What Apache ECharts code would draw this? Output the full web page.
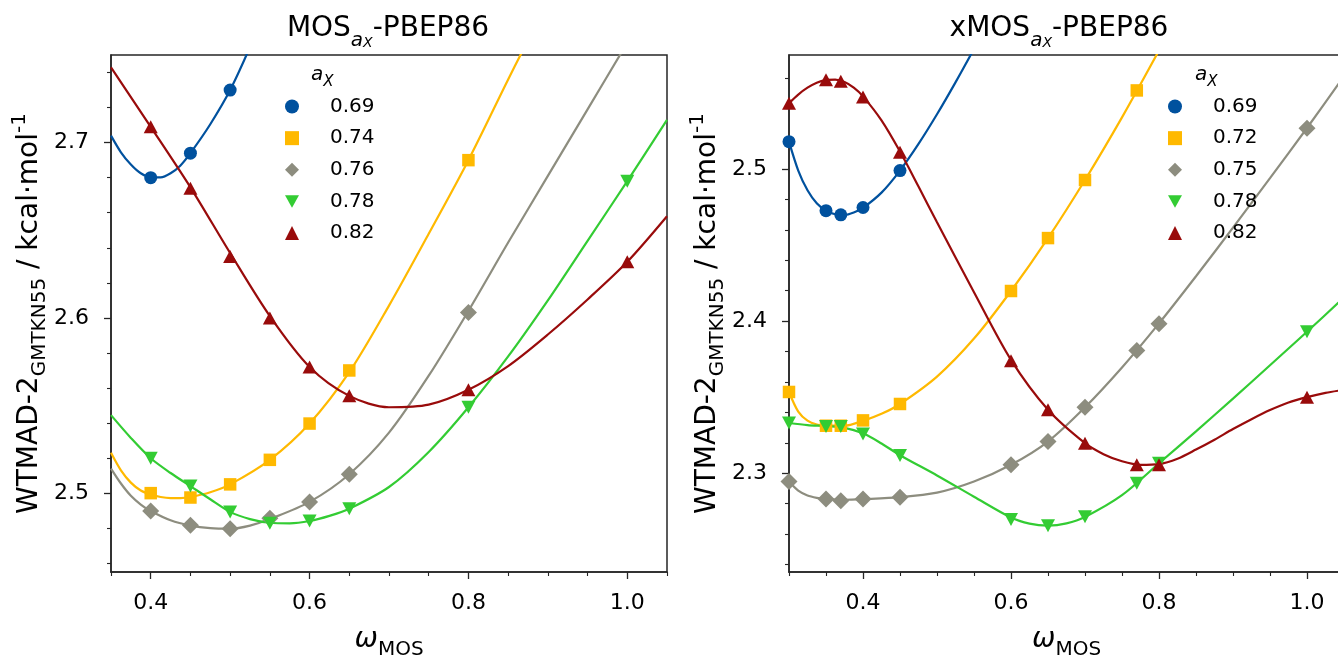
<!DOCTYPE html>
<html>
<head>
<meta charset="utf-8">
<script src="https://cdn.jsdelivr.net/npm/echarts@6/dist/echarts.min.js"></script>
<style>html,body{margin:0;padding:0;background:#fff}#c{width:1338px;height:658px}</style>
</head>
<body>
<div id="c"></div>
<script>
// ---------------- DATA ----------------
// Left panel: MOS_aX-PBEP86
const mosNames = ['0.69', '0.74', '0.76', '0.78', '0.82'];
const mosX_069 = [0.40, 0.45, 0.50];
const mosY_069 = [2.680, 2.694, 2.730];
const mosX_074 = [0.40, 0.45, 0.50, 0.55, 0.60, 0.65, 0.80];
const mosY_074 = [2.500, 2.4975, 2.505, 2.519, 2.5397, 2.570, 2.690];
const mosX_076 = [0.40, 0.45, 0.50, 0.55, 0.60, 0.65, 0.80];
const mosY_076 = [2.4898, 2.4817, 2.4797, 2.4857, 2.4949, 2.5108, 2.603];
const mosX_078 = [0.40, 0.45, 0.50, 0.55, 0.60, 0.65, 0.80, 1.00];
const mosY_078 = [2.5199, 2.5041, 2.4893, 2.4828, 2.4841, 2.4911, 2.549, 2.678];
const mosX_082 = [0.40, 0.45, 0.50, 0.55, 0.60, 0.65, 0.80, 1.00];
const mosY_082 = [2.709, 2.674, 2.635, 2.600, 2.572, 2.5555, 2.559, 2.632];
// fitted curves
const mosFit_069 = [[0.35,2.704],[0.3625,2.6945],[0.375,2.6875],[0.3875,2.6825],[0.40,2.6803],[0.4125,2.6802],[0.425,2.6825],[0.4375,2.687],[0.45,2.694],[0.475,2.7105],[0.50,2.730],[0.525,2.7545]];
const mosFit_074 = [[0.35,2.523],[0.3625,2.513],[0.375,2.506],[0.3875,2.5015],[0.40,2.4992],[0.4125,2.4978],[0.425,2.4972],[0.4375,2.4972],[0.45,2.4978],[0.475,2.5005],[0.50,2.505],[0.55,2.519],[0.60,2.5397],[0.65,2.569],[0.70,2.607],[0.75,2.648],[0.80,2.690],[0.85,2.736],[0.87,2.754]];
const mosFit_076 = [[0.35,2.514],[0.3625,2.5055],[0.375,2.4985],[0.3875,2.4935],[0.40,2.4898],[0.425,2.4845],[0.45,2.4815],[0.475,2.4800],[0.50,2.4797],[0.525,2.4815],[0.55,2.4852],[0.60,2.4950],[0.65,2.5108],[0.70,2.5345],[0.75,2.567],[0.80,2.604],[0.85,2.643],[0.90,2.681],[0.95,2.719],[1.00,2.757]];
const mosFit_078 = [[0.35,2.5445],[0.375,2.5315],[0.40,2.5199],[0.425,2.5115],[0.45,2.504],[0.475,2.4965],[0.50,2.4893],[0.525,2.4852],[0.55,2.4831],[0.575,2.4828],[0.60,2.4841],[0.625,2.487],[0.65,2.4911],[0.70,2.5035],[0.75,2.5235],[0.80,2.549],[0.85,2.578],[0.90,2.610],[0.95,2.644],[1.00,2.678],[1.05,2.713]];
const mosFit_082 = [[0.35,2.743],[0.40,2.709],[0.45,2.6745],[0.50,2.637],[0.55,2.601],[0.60,2.572],[0.65,2.5555],[0.70,2.549],[0.75,2.5505],[0.80,2.559],[0.85,2.5725],[0.90,2.5905],[0.95,2.6105],[1.00,2.632],[1.05,2.658]];

// Right panel: xMOS_aX-PBEP86
const xmosNames = ['0.69', '0.72', '0.75', '0.78', '0.82'];
const xmosX_069 = [0.30, 0.35, 0.37, 0.40, 0.45];
const xmosY_069 = [2.518, 2.4726, 2.4699, 2.4747, 2.499];
const xmosX_072 = [0.30, 0.35, 0.37, 0.40, 0.45, 0.60, 0.65, 0.70, 0.77];
const xmosY_072 = [2.3534, 2.3312, 2.3312, 2.3347, 2.3455, 2.4198, 2.4546, 2.4928, 2.5517];
const xmosX_075 = [0.30, 0.35, 0.37, 0.40, 0.45, 0.60, 0.65, 0.70, 0.77, 0.80, 1.00];
const xmosY_075 = [2.2945, 2.283, 2.2819, 2.283, 2.2841, 2.3055, 2.3208, 2.3433, 2.3807, 2.3982, 2.5269];
const xmosX_078 = [0.30, 0.35, 0.37, 0.40, 0.45, 0.60, 0.65, 0.70, 0.77, 0.80, 1.00];
const xmosY_078 = [2.333, 2.3307, 2.3307, 2.3257, 2.3116, 2.2695, 2.2654, 2.2714, 2.2933, 2.3065, 2.393];
const xmosX_082 = [0.30, 0.35, 0.37, 0.40, 0.45, 0.60, 0.65, 0.70, 0.77, 0.80, 1.00];
const xmosY_082 = [2.5433, 2.5588, 2.5577, 2.5473, 2.511, 2.374, 2.3417, 2.3197, 2.3055, 2.3055, 2.350];
const xmosFit_069 = [[0.30,2.518],[0.3125,2.499],[0.325,2.486],[0.3375,2.4775],[0.35,2.4726],[0.3625,2.4703],[0.375,2.4698],[0.3875,2.4714],[0.40,2.4745],[0.425,2.4845],[0.45,2.499],[0.475,2.5165],[0.50,2.536],[0.525,2.557],[0.55,2.579]];
const xmosFit_072 = [[0.30,2.3534],[0.3125,2.3405],[0.325,2.3345],[0.3375,2.332],[0.35,2.3312],[0.375,2.3312],[0.40,2.3344],[0.425,2.339],[0.45,2.3455],[0.50,2.3635],[0.55,2.3885],[0.60,2.4198],[0.65,2.4546],[0.70,2.4928],[0.75,2.534],[0.80,2.578]];
const xmosFit_075 = [[0.30,2.2945],[0.3125,2.2885],[0.325,2.2853],[0.3375,2.2838],[0.35,2.283],[0.375,2.2825],[0.40,2.2829],[0.45,2.2842],[0.50,2.2872],[0.55,2.2945],[0.60,2.3055],[0.65,2.3208],[0.70,2.3433],[0.75,2.3695],[0.80,2.3985],[0.85,2.4295],[0.90,2.4615],[0.95,2.494],[1.00,2.527],[1.05,2.561]];
const xmosFit_078 = [[0.30,2.333],[0.325,2.3316],[0.35,2.3309],[0.375,2.3298],[0.40,2.3262],[0.425,2.3195],[0.45,2.3118],[0.50,2.2985],[0.55,2.2845],[0.60,2.2708],[0.625,2.2668],[0.65,2.2655],[0.675,2.267],[0.70,2.2712],[0.75,2.2855],[0.80,2.3065],[0.85,2.3275],[0.90,2.349],[0.95,2.371],[1.00,2.393],[1.05,2.4155]];
const xmosFit_082 = [[0.30,2.5433],[0.3125,2.549],[0.325,2.5535],[0.3375,2.5568],[0.35,2.5585],[0.3625,2.5588],[0.375,2.5572],[0.3875,2.5535],[0.40,2.5478],[0.425,2.532],[0.45,2.5115],[0.475,2.4885],[0.50,2.465],[0.55,2.419],[0.60,2.3745],[0.65,2.3417],[0.70,2.3197],[0.725,2.3125],[0.75,2.3078],[0.775,2.3055],[0.80,2.306],[0.825,2.3095],[0.85,2.3155],[0.875,2.322],[0.90,2.329],[0.925,2.3355],[0.95,2.3415],[0.975,2.3465],[1.00,2.350],[1.025,2.3528],[1.05,2.3548]];

// tick values
const xMajorL = [0.4, 0.6, 0.8, 1.0];
const xMinorL = [0.35, 0.45, 0.5, 0.55, 0.65, 0.7, 0.75, 0.85, 0.9, 0.95, 1.05];
const yMajorL = [2.5, 2.6, 2.7];
const yMinorL = [2.46, 2.48, 2.52, 2.54, 2.56, 2.58, 2.62, 2.64, 2.66, 2.68, 2.72, 2.74];
const xMajorR = [0.4, 0.6, 0.8, 1.0];
const xMinorR = [0.3, 0.35, 0.45, 0.5, 0.55, 0.65, 0.7, 0.75, 0.85, 0.9, 0.95];
const yMajorR = [2.3, 2.4, 2.5];
const yMinorR = [2.24, 2.26, 2.28, 2.32, 2.34, 2.36, 2.38, 2.42, 2.44, 2.46, 2.48, 2.52, 2.54, 2.56];

// ---------------- STYLE ----------------
const FONT = 'DejaVu Sans';
const TXT = '#000';
const AX = '#262626';
const DOWN_TRI = 'path://M0,0L10,0L5,9Z';
const STY = [
  { color: '#00519e', symbol: 'circle', size: 13, icon: 'circle' },
  { color: '#ffb900', symbol: 'rect', size: 12.5, icon: 'rect' },
  { color: '#8d8d7f', symbol: 'diamond', size: 17, icon: 'diamond' },
  { color: '#33cc33', symbol: DOWN_TRI, size: [14, 13], icon: DOWN_TRI },
  { color: '#990b0b', symbol: 'triangle', size: [14, 13], icon: 'triangle' }
];

function pts(xs, ys) { return xs.map((x, i) => [x, ys[i]]); }

const leftSets = [
  [mosX_069, mosY_069, mosFit_069], [mosX_074, mosY_074, mosFit_074], [mosX_076, mosY_076, mosFit_076],
  [mosX_078, mosY_078, mosFit_078], [mosX_082, mosY_082, mosFit_082]
];
const rightSets = [
  [xmosX_069, xmosY_069, xmosFit_069], [xmosX_072, xmosY_072, xmosFit_072], [xmosX_075, xmosY_075, xmosFit_075],
  [xmosX_078, xmosY_078, xmosFit_078], [xmosX_082, xmosY_082, xmosFit_082]
];

const series = [];
function addPanel(sets, names, axisIdx, tag) {
  sets.forEach((s, i) => {
    const st = STY[i];
    series.push({
      type: 'line', name: 'fit ' + tag + ' ' + names[i], xAxisIndex: axisIdx, yAxisIndex: axisIdx,
      data: s[2], smooth: 0.3, showSymbol: false, symbol: 'none', clip: true, silent: true,
      lineStyle: { color: st.color, width: 2.2 }, z: 2
    });
  });
  sets.forEach((s, i) => {
    const st = STY[i];
    series.push({
      type: 'scatter', name: names[i], xAxisIndex: axisIdx, yAxisIndex: axisIdx,
      data: pts(s[0], s[1]), symbol: st.symbol, symbolSize: st.size,
      itemStyle: { color: st.color, opacity: 1 }, z: 3 + i * 0.01
    });
  });
}
addPanel(leftSets, mosNames, 0, 'L');
addPanel(rightSets, xmosNames, 2, 'R');

const lbl = { fontFamily: FONT, fontSize: 22, color: TXT };
function xMajor(grid, min, max, ticks) {
  return {
    gridIndex: grid, type: 'value', min: min, max: max, position: 'bottom',
    axisLine: { onZero: false, lineStyle: { color: AX, width: 1.5 } },
    axisTick: { show: true, customValues: ticks, length: 7, lineStyle: { color: AX, width: 1.3 } },
    axisLabel: Object.assign({ customValues: ticks, margin: 20, formatter: v => v.toFixed(1) }, lbl),
    splitLine: { show: false },
    name: '{w|ω}{s|MOS}', nameLocation: 'middle', nameGap: 48,
    nameTextStyle: {
      rich: {
        w: { fontFamily: FONT, fontSize: 28, fontStyle: 'italic', lineHeight: 40, color: TXT },
        s: { fontFamily: FONT, fontSize: 20, lineHeight: 20, verticalAlign: 'bottom', color: TXT }
      }
    }
  };
}
function xMinor(grid, min, max, ticks) {
  return {
    gridIndex: grid, type: 'value', min: min, max: max, position: 'bottom',
    axisLine: { show: false }, splitLine: { show: false }, axisLabel: { show: false },
    axisTick: { show: true, customValues: ticks, length: 4, lineStyle: { color: AX, width: 1.1 } }
  };
}
function yMajor(grid, min, max, ticks, gap) {
  return {
    gridIndex: grid, type: 'value', min: min, max: max, position: 'left',
    axisLine: { show: true, onZero: false, lineStyle: { color: AX, width: 1.5 } },
    axisTick: { show: true, customValues: ticks, length: 7, lineStyle: { color: AX, width: 1.3 } },
    axisLabel: Object.assign({ customValues: ticks, margin: 22, formatter: v => v.toFixed(1) }, lbl),
    splitLine: { show: false },
    name: '{m|WTMAD-2}{s|GMTKN55}{m| / kcal·mol}{p|-1}', nameLocation: 'middle', nameGap: gap, nameRotate: 90,
    nameTextStyle: {
      rich: {
        m: { fontFamily: FONT, fontSize: 28, lineHeight: 40, color: TXT },
        s: { fontFamily: FONT, fontSize: 20, lineHeight: 20, verticalAlign: 'bottom', color: TXT },
        p: { fontFamily: FONT, fontSize: 20, lineHeight: 20, verticalAlign: 'top', color: TXT }
      }
    }
  };
}
function yMinor(grid, min, max, ticks) {
  return {
    gridIndex: grid, type: 'value', min: min, max: max, position: 'left',
    axisLine: { show: false }, splitLine: { show: false }, axisLabel: { show: false },
    axisTick: { show: true, customValues: ticks, length: 4, lineStyle: { color: AX, width: 1.1 } }
  };
}

function legendFor(names, left) {
  return {
    orient: 'vertical', left: left, top: 96.5, padding: 0, itemGap: 11.65,
    itemWidth: 14, itemHeight: 14, selectedMode: false,
    data: names.map((n, i) => ({ name: n, icon: STY[i].icon, itemStyle: { color: STY[i].color } })),
    textStyle: { fontFamily: FONT, fontSize: 20, color: TXT, lineHeight: 20, padding: [0, 0, 0, 26] }
  };
}

function titleText(x, prefix) {
  return {
    type: 'text', x: x, y: 28.3, z: 10,
    style: {
      text: '{m|' + prefix + '}{a|a}{x|X}{m|-PBEP86}',
      align: 'center', verticalAlign: 'middle',
      rich: {
        m: { fontFamily: FONT, fontSize: 28, lineHeight: 44, fill: TXT },
        a: { fontFamily: FONT, fontSize: 20, fontStyle: 'italic', lineHeight: 26, verticalAlign: 'bottom', fill: TXT },
        x: { fontFamily: FONT, fontSize: 14, fontStyle: 'italic', lineHeight: 14, verticalAlign: 'bottom', fill: TXT }
      }
    }
  };
}
function legendHeader(x) {
  return {
    type: 'text', x: x, y: 75, z: 10,
    style: {
      text: '{a|a}{x|X}', align: 'left', verticalAlign: 'middle',
      rich: {
        a: { fontFamily: FONT, fontSize: 20, fontStyle: 'italic', lineHeight: 30, fill: TXT },
        x: { fontFamily: FONT, fontSize: 15, fontStyle: 'italic', lineHeight: 22, verticalAlign: 'bottom', fill: TXT }
      }
    }
  };
}

const option = {
  backgroundColor: '#ffffff',
  animation: false,
  grid: [
    { left: 111, top: 55, width: 556, height: 517, outerBoundsMode: 'none', containLabel: false, show: true, borderColor: AX, borderWidth: 1.5, backgroundColor: 'transparent' },
    { left: 789, top: 55, width: 555, height: 517, outerBoundsMode: 'none', containLabel: false, show: true, borderColor: AX, borderWidth: 1.5, backgroundColor: 'transparent' }
  ],
  xAxis: [
    xMajor(0, 0.35, 1.05, xMajorL), xMinor(0, 0.35, 1.05, xMinorL),
    xMajor(1, 0.30, 1.05, xMajorR), xMinor(1, 0.30, 1.05, xMinorR)
  ],
  yAxis: [
    yMajor(0, 2.455, 2.75, yMajorL, 56), yMinor(0, 2.455, 2.75, yMinorL),
    yMajor(1, 2.235, 2.575, yMajorR, 57), yMinor(1, 2.235, 2.575, yMinorR)
  ],
  legend: [legendFor(mosNames, 285), legendFor(xmosNames, 1168)],
  graphic: [titleText(388, 'MOS'), titleText(1059, 'xMOS'), legendHeader(311), legendHeader(1195)],
  series: series
};

const chart = echarts.init(document.getElementById('c'), null, { renderer: 'canvas', width: 1338, height: 658 });
chart.setOption(option);
</script>
</body>
</html>
